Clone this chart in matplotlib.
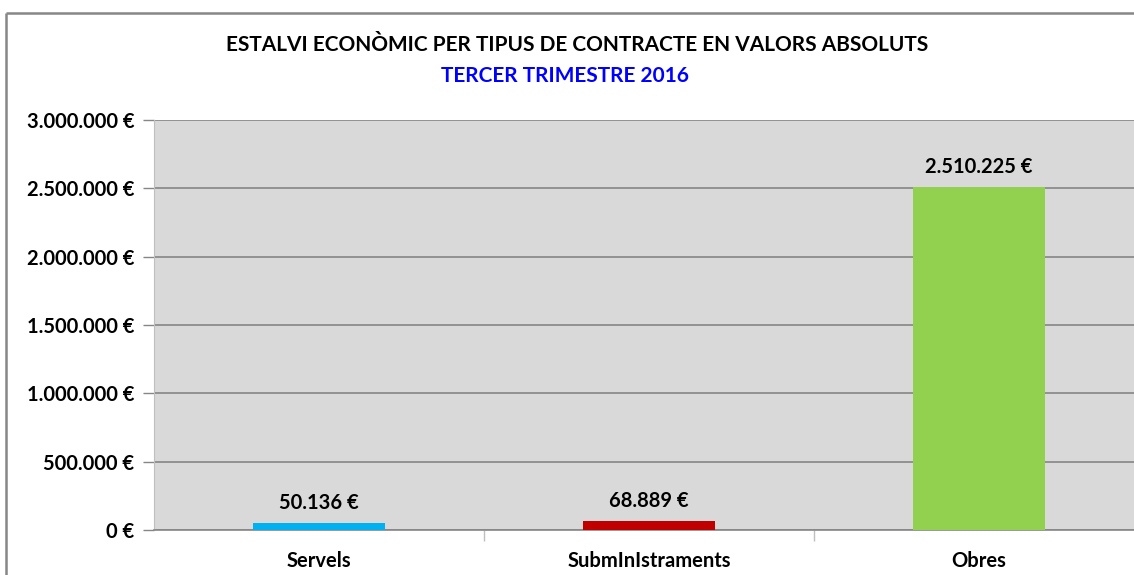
import matplotlib
matplotlib.use("Agg")
import matplotlib.pyplot as plt
from matplotlib.lines import Line2D
from matplotlib.ticker import FuncFormatter

categories = ["Servels", "SubmInIstraments", "Obres"]
values = [50136, 68889, 2510225]
colors = ["#00B0F0", "#C00000", "#92D050"]
title_main = "ESTALVI ECONÒMIC PER TIPUS DE CONTRACTE EN VALORS ABSOLUTS"
title_sub = "TERCER TRIMESTRE 2016"
yticks = [0, 500000, 1000000, 1500000, 2000000, 2500000, 3000000]

plt.rcParams['font.family'] = ['Lato', 'DejaVu Sans']

W, H = 1134, 575
fig = plt.figure(figsize=(W / 100, H / 100), dpi=100)
fig.patch.set_facecolor("white")

# outer chart border (top and left edges visible)
bx, by = 5.5 / W, 1 - 12.5 / H
fig.lines.append(Line2D([bx, 1.1], [by, by], transform=fig.transFigure,
                        color="#878787", linewidth=1.8, solid_capstyle="butt"))
fig.lines.append(Line2D([bx, bx], [-0.1, by], transform=fig.transFigure,
                        color="#878787", linewidth=1.8, solid_capstyle="butt"))

left, right, top, bottom = 154, 1144, 120, 530
ax = fig.add_axes([left / W, 1 - bottom / H, (right - left) / W, (bottom - top) / H])
ax.set_facecolor("#D9D9D9")

def euro(v):
    return f"{int(round(v)):,}".replace(",", ".") + " €"

x = list(range(len(categories)))
ax.bar(x, values, width=0.4, color=colors, zorder=3)
ax.set_xlim(-0.5, 2.5)
ax.set_ylim(0, 3000000)
ax.set_yticks(yticks)
ax.yaxis.set_major_formatter(FuncFormatter(lambda v, p: euro(v)))
ax.grid(axis="y", color="#868686", linewidth=1.2, zorder=1)
ax.set_xticks(x)
ax.set_xticklabels(categories)
ax.set_xticks([0.5, 1.5], minor=True)
ax.tick_params(axis="x", which="major", length=0, pad=15, labelsize=14.5)
ax.tick_params(axis="x", which="minor", length=8, color="#BFBFBF", width=1, direction="out")
ax.tick_params(axis="y", length=8, color="#868686", width=1, pad=6, labelsize=14.5)
for lab in ax.get_xticklabels() + ax.get_yticklabels():
    lab.set_fontweight("bold")

for s in ["top", "right"]:
    ax.spines[s].set_visible(False)
ax.spines["left"].set_color("#BFBFBF")
ax.spines["bottom"].set_color("#868686")
ax.spines["bottom"].set_linewidth(1.2)

for i, v in enumerate(values):
    ax.annotate(euro(v), (i, v), xytext=(0, 7), textcoords="offset points",
                ha="center", va="bottom", fontsize=14.5, fontweight="bold", color="black")

fig.text(577 / W, 1 - 45 / H, title_main, ha="center", va="center",
         fontsize=15, fontweight="bold", color="black")
fig.text(565 / W, 1 - 76 / H, title_sub, ha="center", va="center",
         fontsize=15, fontweight="bold", color="#0000FF")

fig.savefig("out.png", dpi=100)
